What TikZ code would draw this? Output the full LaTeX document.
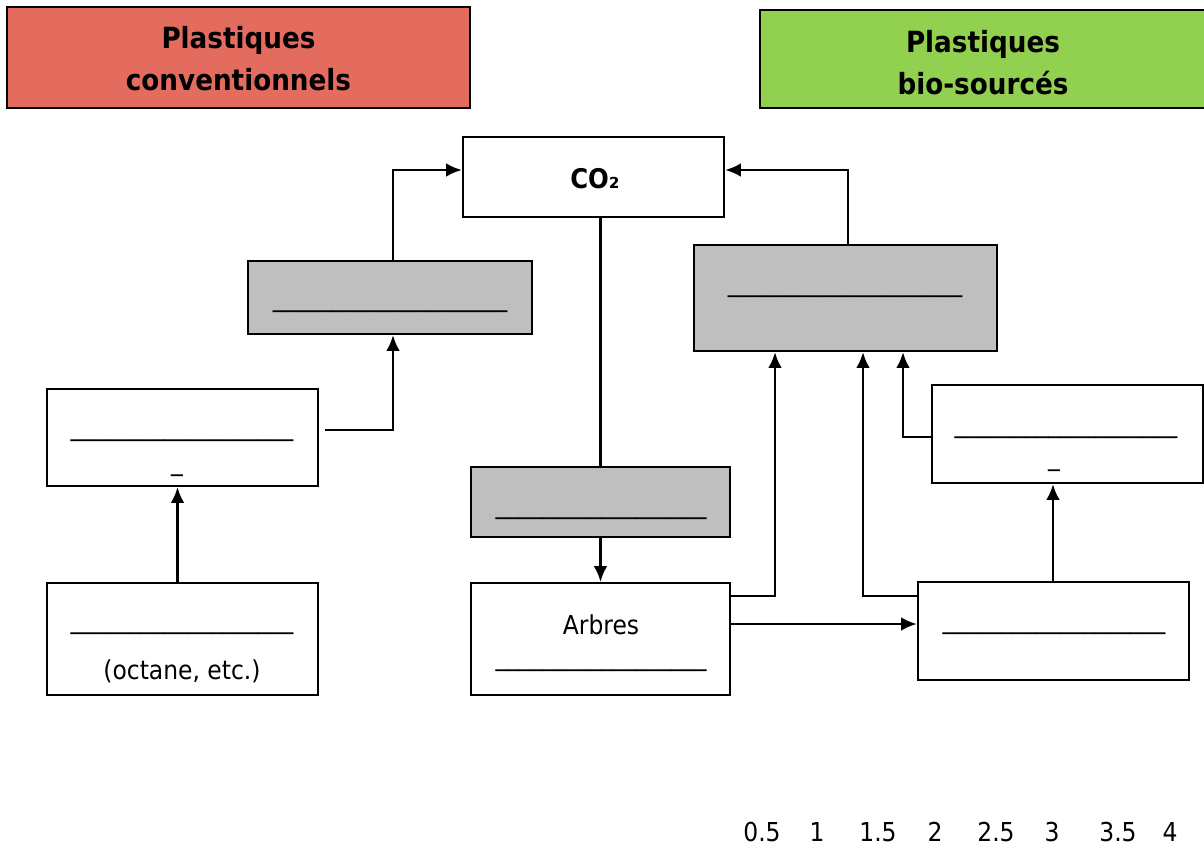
\documentclass[tikz,border=0pt]{standalone}
\usepackage{fontspec}
\setmainfont{DejaVu Sans Condensed}
\usepackage{tikz}
\usetikzlibrary{positioning, calc, arrows.meta}
\definecolor{convred}{HTML}{E36C5E}
\definecolor{biogreen}{HTML}{92D050}
\definecolor{boxgrey}{HTML}{BFBFBF}
\newlength\px
\setlength\px{0.48pt}
\newcommand{\blanks}[1]{\foreach \k in {1,...,#1}{\_}}
\tikzset{box/.style={draw, line width=1.1pt, inner sep=0pt}}
\tikzset{greybox/.style={box, fill=boxgrey}}
\tikzset{txt/.style={anchor=base, inner sep=0pt, font=\fontsize{12.5}{15}\selectfont}}
\tikzset{head/.style={txt, font=\bfseries\fontsize{14}{17}\selectfont}}
\tikzset{line/.style={line width=1.2pt}}
\tikzset{link/.style={line, -{Latex[length=7.5pt, width=6.5pt]}}}

\begin{document}
\begin{tikzpicture}[x=0.48pt, y=-0.48pt]

      \useasboundingbox (0,0) rectangle (1204,847);

      % BOXES

      \node[box, fill=convred, minimum width=463\px, minimum height=101\px] (conv) at (238.5,57.5) {};
      \node[box, fill=biogreen, minimum width=455\px, minimum height=98\px] (bio) at (987.5,59) {};
      \node[box, minimum width=261\px, minimum height=80\px] (co2) at (593.5,177) {};
      \node[greybox, minimum width=284\px, minimum height=73\px] (combL) at (390,297.5) {};
      \node[greybox, minimum width=303\px, minimum height=106\px] (combR) at (845.5,298) {};
      \node[box, minimum width=271\px, minimum height=97\px] (plastL) at (182.5,437.5) {};
      \node[box, minimum width=271\px, minimum height=112\px] (fossil) at (182.5,639) {};
      \node[greybox, minimum width=259\px, minimum height=70\px] (photo) at (600.5,502) {};
      \node[box, minimum width=259\px, minimum height=112\px] (trees) at (600.5,639) {};
      \node[box, minimum width=271\px, minimum height=98\px] (plastR) at (1067.5,434) {};
      \node[box, minimum width=271\px, minimum height=98\px] (biomass) at (1053.5,631) {};

      % LABELS

      \node[head] (convA) at (238.5,48) {Plastiques};
      \node[head] (convB) at (238.5,90) {conventionnels};
      \node[head] (bioA) at (983,52) {Plastiques};
      \node[head] (bioB) at (983,94) {bio-sourcés};
      \node[txt, font=\bfseries\fontsize{13}{15}\selectfont] (co2A) at (595,188) {CO₂};

      \node[txt] (combLA) at (390,306) {\blanks{20}};
      \node[txt] (combRA) at (845,291) {\blanks{20}};
      \node[txt] (plastLA) at (182,435) {\blanks{19}};
      \node[txt] (plastLB) at (177,470) {\_};
      \node[txt] (fossilA) at (182,628) {\blanks{19}};
      \node[txt] (fossilB) at (182,679) {(octane, etc.)};
      \node[txt] (photoA) at (601,513) {\blanks{18}};
      \node[txt] (treesA) at (601,634) {Arbres};
      \node[txt] (treesB) at (601,665) {\blanks{18}};
      \node[txt] (plastRA) at (1066,432) {\blanks{19}};
      \node[txt] (plastRB) at (1054,465) {\_};
      \node[txt] (biomassA) at (1054,628) {\blanks{19}};

      \foreach \val/\xpos in {0.5/762, 1/817, 1.5/878, 2/935, 2.5/996, 3/1052, 3.5/1118, 4/1170}
        \node[txt] (tick\xpos) at (\xpos,841) {\val};

      % ARCS

      \draw[link] ($(combL.north)+(3,0)$) |- ($(co2.west)+(0,-7)$);
      \draw[link] ($(combR.north)+(2.5,0)$) |- ($(co2.east)+(0,-7)$);
      \draw[line] (photo.north |- co2.south) -- (photo.north);
      \draw[link] (photo.south) -- (trees.north);
      \draw[link] ($(plastL.east)+(6,-7.5)$) -| ($(combL.south)+(3,0)$);
      \draw[link] ($(fossil.north)+(-5,0)$) -- ($(plastL.south)+(-5,0)$);
      \draw[link] ($(trees.east)+(0,-43)$) -| ($(combR.south)+(-70.5,0)$);
      \draw[link] ($(trees.east)+(0,-15)$) -- ($(biomass.west)+(0,-7)$);
      \draw[link] ($(biomass.west)+(0,-35)$) -| ($(combR.south)+(17.5,0)$);
      \draw[link] ($(plastR.west)+(0,3)$) -| ($(combR.south)+(57.5,0)$);
      \draw[link] ($(biomass.north)+(-0.5,0)$) -- ($(plastR.south)+(-14.5,0)$);

\end{tikzpicture}
\end{document}
